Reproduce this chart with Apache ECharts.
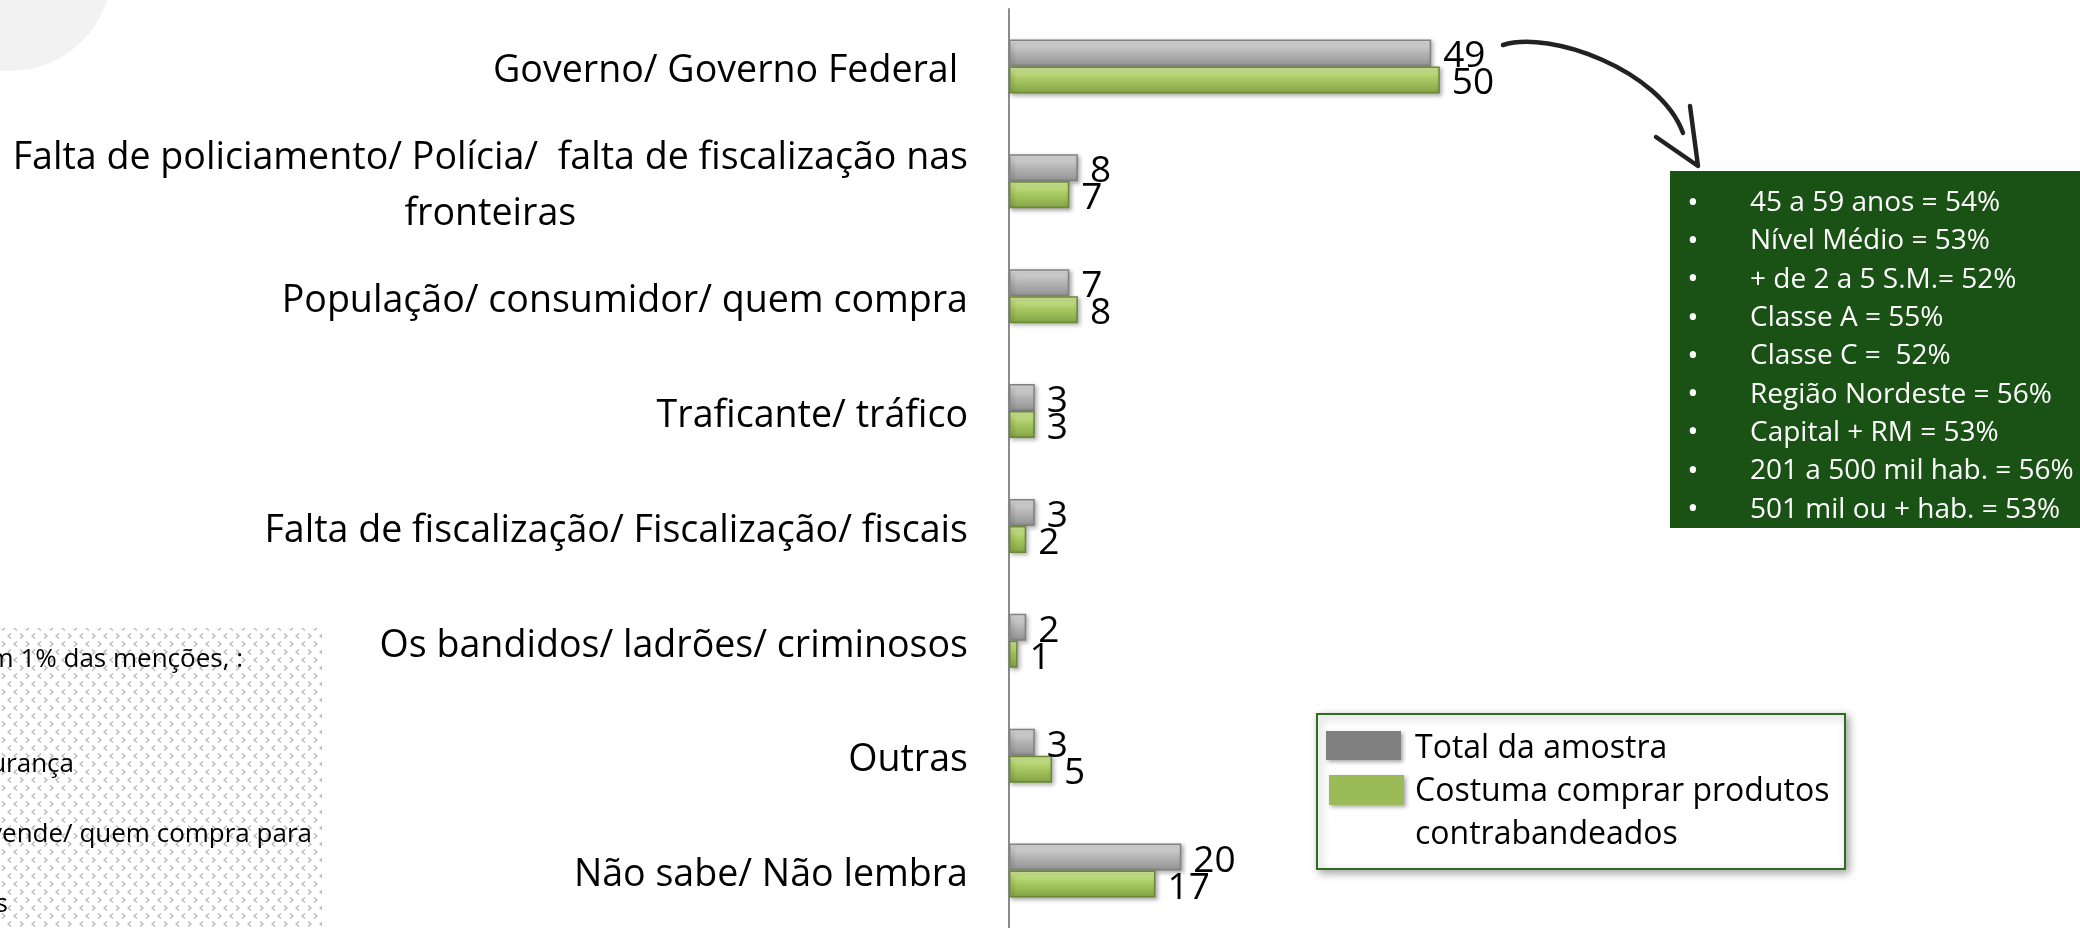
<!DOCTYPE html>
<html>
<head>
<meta charset="utf-8">
<script src="https://cdn.jsdelivr.net/npm/echarts@6/dist/echarts.min.js"></script>
<style>
  html, body { margin: 0; padding: 0; background: #fff; }
  #chart { width: 2080px; height: 928px; }
</style>
</head>
<body>
<div id="chart"></div>
<script>
// categories, top to bottom
const categories = [
  "Governo/ Governo Federal ",
  "Falta de policiamento/ Polícia/  falta de fiscalização nas\nfronteiras",
  "População/ consumidor/ quem compra",
  "Traficante/ tráfico",
  "Falta de fiscalização/ Fiscalização/ fiscais",
  "Os bandidos/ ladrões/ criminosos",
  "Outras",
  "Não sabe/ Não lembra"
];
const seriesNames = ["Total da amostra", "Costuma comprar produtos\ncontrabandeados"];
const totalAmostra = [49, 8, 7, 3, 3, 2, 3, 20];
const costumaComprar = [50, 7, 8, 3, 2, 1, 5, 17];

// text box on the right
const boxLines = [
  "45 a 59 anos = 54%",
  "Nível Médio = 53%",
  "+ de 2 a 5 S.M.= 52%",
  "Classe A = 55%",
  "Classe C =  52%",
  "Região Nordeste = 56%",
  "Capital + RM = 53%",
  "201 a 500 mil hab. = 56%",
  "501 mil ou + hab. = 53%"
];
// cut-off note box bottom left
const noteLines = ["m 1% das menções, :", "urança", "vende/ quem compra para", "s"];

const FONT = "'Open Sans', 'DejaVu Sans', sans-serif";

// dotted pattern for the note box
function makePattern() {
  var c = document.createElement("canvas");
  c.width = 24;
  c.height = 16;
  var ctx = c.getContext("2d");
  ctx.strokeStyle = "#b4b4b4";
  ctx.lineWidth = 1.2;
  function chev(x, y, dir) {
    ctx.beginPath();
    ctx.moveTo(x + (dir > 0 ? 0 : 3), y - 2.5);
    ctx.lineTo(x + (dir > 0 ? 3 : 0), y);
    ctx.lineTo(x + (dir > 0 ? 0 : 3), y + 2.5);
    ctx.stroke();
  }
  chev(2, 4, 1);
  chev(14, 4, -1);
  chev(8, 12, -1);
  chev(20, 12, 1);
  return c;
}

function barStyle(top, mid, bottom, border) {
  return {
    color: {
      type: "linear", x: 0, y: 0, x2: 0, y2: 1,
      colorStops: [
        { offset: 0, color: top },
        { offset: 0.45, color: mid },
        { offset: 1, color: bottom }
      ]
    },
    borderColor: border,
    borderWidth: 1.5,
    shadowBlur: 4,
    shadowColor: "rgba(0,0,0,0.3)",
    shadowOffsetX: 2,
    shadowOffsetY: 2
  };
}

var chart = echarts.init(document.getElementById("chart"));

var bulletText = boxLines.map(function () { return "•"; }).join("\n");
var noteFont = "26px " + FONT;

var option = {
  animation: false,
  backgroundColor: "#fff",
  grid: { left: 1009, top: 9, width: 517, height: 925 },
  xAxis: {
    type: "value",
    min: 0,
    max: 60,
    show: false
  },
  yAxis: {
    type: "category",
    inverse: true,
    data: categories,
    axisLine: { show: true, lineStyle: { color: "#8c8c8c", width: 2 } },
    axisTick: { show: false },
    axisLabel: {
      margin: 41,
      color: "#000",
      fontFamily: FONT,
      fontSize: 37.6,
      padding: [10, 0, 0, 0],
      formatter: function (v) {
        return v.split("\n").map(function (s) { return "{c|" + s + "}"; }).join("\n");
      },
      rich: {
        c: { fontFamily: FONT, fontSize: 37.6, color: "#000", lineHeight: 56, align: "center" }
      }
    }
  },
  series: [
    {
      name: seriesNames[0],
      type: "bar",
      data: totalAmostra,
      barWidth: 27,
      barGap: "0%",
      itemStyle: barStyle("#e2e2e2", "#b8b8b8", "#929292", "#828282"),
      label: {
        show: true, position: "right", distance: 12, offset: [0, 4],
        color: "#000", fontFamily: FONT, fontSize: 37
      }
    },
    {
      name: seriesNames[1],
      type: "bar",
      data: costumaComprar,
      barWidth: 27,
      barGap: "0%",
      itemStyle: barStyle("#d8ef9f", "#a9ca63", "#84a446", "#6a8836"),
      label: {
        show: true, position: "right", distance: 12, offset: [0, 4],
        color: "#000", fontFamily: FONT, fontSize: 37
      }
    }
  ],
  graphic: {
    elements: [
      // decorative circle top left
      { type: "circle", z: -10, shape: { cx: 10, cy: -31, r: 102 }, style: { fill: "#f2f2f2" } },
      // note box bottom left
      { type: "rect", z: -5, shape: { x: 0, y: 628, width: 322, height: 300 },
        style: { fill: { image: makePattern(), repeat: "repeat" } } },
      { type: "text", x: 243, y: 660, style: { text: noteLines[0], align: "right", verticalAlign: "middle", font: noteFont, fill: "#000" } },
      { type: "text", x: 74, y: 765, style: { text: noteLines[1], align: "right", verticalAlign: "middle", font: noteFont, fill: "#000" } },
      { type: "text", x: 312, y: 835, style: { text: noteLines[2], align: "right", verticalAlign: "middle", font: noteFont, fill: "#000" } },
      { type: "text", x: 8, y: 905, style: { text: noteLines[3], align: "right", verticalAlign: "middle", font: noteFont, fill: "#000" } },
      // arrow
      { type: "bezierCurve",
        shape: { x1: 1503, y1: 45, cpx1: 1550, cpy1: 30, cpx2: 1660, cpy2: 70, x2: 1683, y2: 133 },
        style: { stroke: "#222", lineWidth: 4.5, fill: null, lineCap: "round" } },
      { type: "polyline",
        shape: { points: [[1656, 137], [1698, 166], [1690, 106]] },
        style: { stroke: "#222", lineWidth: 4.5, fill: null, lineCap: "round", lineJoin: "round" } },
      // green text box
      { type: "rect", shape: { x: 1670, y: 171, width: 420, height: 357 }, style: { fill: "#1a5216" } },
      { type: "text", x: 1693, y: 184,
        style: { text: bulletText, align: "center", verticalAlign: "top", lineHeight: 38.3, font: "30px " + FONT, fill: "#fff" } },
      { type: "text", x: 1750, y: 184,
        style: { text: boxLines.join("\n"), align: "left", verticalAlign: "top", lineHeight: 38.3, font: "28px " + FONT, fill: "#fff" } },
      // legend
      { type: "rect", shape: { x: 1317, y: 714, width: 528, height: 155 },
        style: { fill: "#fff", stroke: "#2f6b22", lineWidth: 2,
          shadowBlur: 8, shadowColor: "rgba(0,0,0,0.35)", shadowOffsetX: 3, shadowOffsetY: 3 } },
      { type: "rect", shape: { x: 1326, y: 731, width: 75, height: 29 },
        style: { fill: "#808080", shadowBlur: 4, shadowColor: "rgba(0,0,0,0.35)", shadowOffsetX: 2, shadowOffsetY: 2 } },
      { type: "rect", shape: { x: 1329, y: 775, width: 75, height: 30 },
        style: { fill: "#9bbb59", shadowBlur: 4, shadowColor: "rgba(0,0,0,0.35)", shadowOffsetX: 2, shadowOffsetY: 2 } },
      { type: "text", x: 1415, y: 749,
        style: { text: seriesNames[0], verticalAlign: "middle", font: "32px " + FONT, fill: "#000" } },
      { type: "text", x: 1415, y: 770.5,
        style: { text: seriesNames[1], verticalAlign: "top", lineHeight: 43, font: "32px " + FONT, fill: "#000" } }
    ]
  }
};

chart.setOption(option);
</script>
</body>
</html>
